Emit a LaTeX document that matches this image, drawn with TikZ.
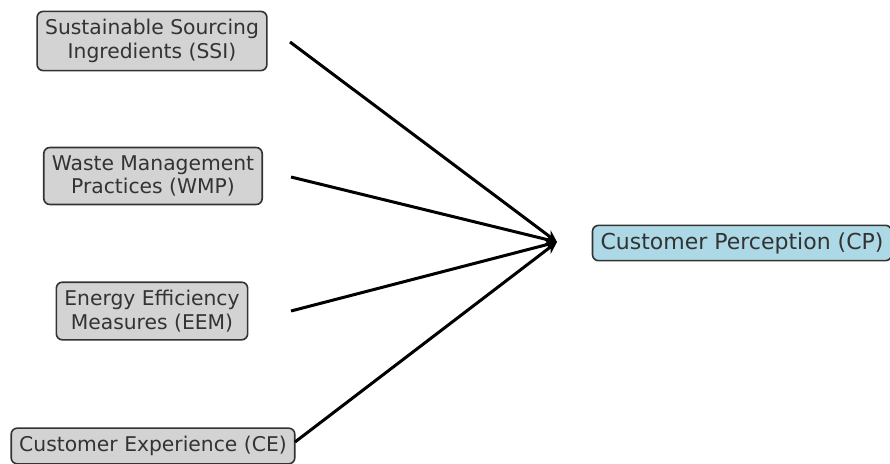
\documentclass[tikz,border=0pt]{standalone}
\usepackage{fontspec}
\setmainfont{DejaVu Sans}
\usetikzlibrary{arrows.meta}
\definecolor{boxgray}{HTML}{D3D3D3}
\definecolor{boxblue}{HTML}{ADD8E6}
\definecolor{edgegray}{HTML}{333333}
\begin{document}
\begin{tikzpicture}[x=1pt,y=-1pt,
  factor/.style={draw=edgegray,line width=1.6pt,rounded corners=6pt,fill=boxgray,
    text=edgegray,align=center,inner xsep=8pt,inner ysep=8pt,
    font=\fontsize{20.3}{23.5}\selectfont},
  target/.style={factor,fill=boxblue,inner ysep=7pt,font=\fontsize{22}{26}\selectfont},
  link/.style={line width=3pt,-{Stealth[length=12pt,width=11pt]}}]
\useasboundingbox (0,0) rectangle (890,463);
\node[factor] (ssi) at (152,41) {Sustainable Sourcing\\Ingredients (SSI)};
\node[factor] (wmp) at (153,176) {Waste Management\\Practices (WMP)};
\node[factor] (eem) at (152,311) {Energy Efficiency\\Measures (EEM)};
\node[factor] (ce) at (153,446) {Customer Experience (CE)};
\node[target] (cp) at (742,243) {Customer Perception (CP)};
\coordinate (ssi-out) at (290,42);
\coordinate (wmp-out) at (291,177);
\coordinate (eem-out) at (291,311);
\coordinate (ce-out) at (295,442);
\coordinate (cp-in) at (557,242);
\draw[link] (ssi-out) -- (cp-in);
\draw[link] (wmp-out) -- (cp-in);
\draw[link] (eem-out) -- (cp-in);
\draw[link] (ce-out) -- (cp-in);
\end{tikzpicture}
\end{document}
